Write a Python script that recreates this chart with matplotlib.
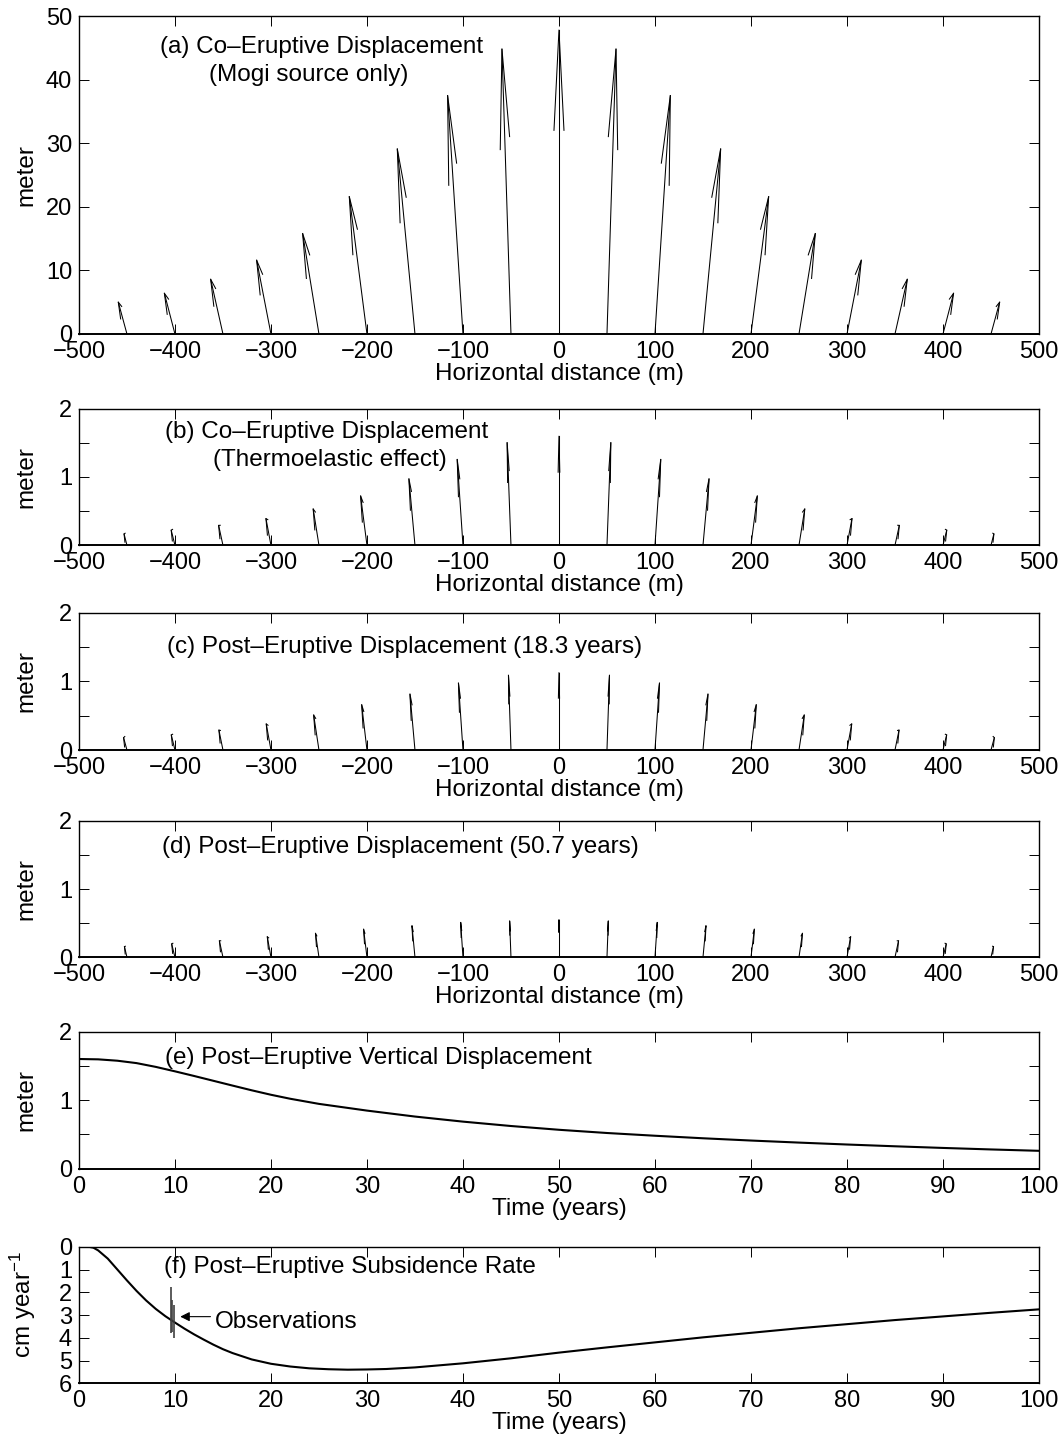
import numpy as np
import matplotlib
matplotlib.use('Agg')
import matplotlib.pyplot as plt

plt.rcParams['font.family'] = ['Liberation Sans', 'DejaVu Sans']
plt.rcParams['mathtext.fontset'] = 'custom'
plt.rcParams['mathtext.rm'] = 'Liberation Sans'
plt.rcParams['mathtext.it'] = 'Liberation Sans:italic'

# station positions (m)
stations = [-450, -400, -350, -300, -250, -200, -150, -100, -50, 0,
            50, 100, 150, 200, 250, 300, 350, 400, 450]

# (a) co-eruptive, Mogi only: horizontal / vertical arrow components
east_a = [-9.0, -11.0, -12.8, -14.9, -17.0, -18.4, -18.4, -16.0, -9.4, 0.0,
          9.4, 16.0, 18.4, 18.4, 17.0, 14.9, 12.8, 11.0, 9.0]
up_a = [5.0, 6.4, 8.6, 11.6, 15.8, 21.6, 29.1, 37.5, 44.8, 47.8,
        44.8, 37.5, 29.1, 21.6, 15.8, 11.6, 8.6, 6.4, 5.0]

# (b) co-eruptive, thermoelastic
east_b = [-3.0, -3.9, -4.5, -5.2, -6.0, -6.6, -6.3, -6.0, -4.0, 0.0,
          4.0, 6.0, 6.3, 6.6, 6.0, 5.2, 4.5, 3.9, 3.0]
up_b = [0.165, 0.22, 0.29, 0.39, 0.53, 0.72, 0.97, 1.255, 1.50, 1.595,
        1.50, 1.255, 0.97, 0.72, 0.53, 0.39, 0.29, 0.22, 0.165]

# (c) post-eruptive, 18.3 years
east_c = [-3.5, -3.8, -4.2, -4.9, -5.5, -5.5, -5.2, -4.7, -2.6, 0.0,
          2.6, 4.7, 5.2, 5.5, 5.5, 4.9, 4.2, 3.8, 3.5]
up_c = [0.18, 0.22, 0.29, 0.38, 0.51, 0.66, 0.815, 0.976, 1.09, 1.13,
        1.09, 0.976, 0.815, 0.66, 0.51, 0.38, 0.29, 0.22, 0.18]

# (d) post-eruptive, 50.7 years
east_d = [-2.6, -3.4, -3.7, -3.8, -3.6, -3.5, -3.1, -2.4, -1.4, 0.0,
          1.4, 2.4, 3.1, 3.5, 3.6, 3.8, 3.7, 3.4, 2.6]
up_d = [0.156, 0.195, 0.24, 0.30, 0.35, 0.41, 0.46, 0.51, 0.53, 0.55,
        0.53, 0.51, 0.46, 0.41, 0.35, 0.30, 0.24, 0.195, 0.156]

# (e) vertical displacement vs time
t_e = [0, 2, 4, 6, 8, 10, 12, 14, 16, 18, 20, 22, 25, 30, 35, 40, 45, 50,
       55, 60, 65, 70, 75, 80, 85, 90, 95, 100]
disp_e = [1.60, 1.595, 1.575, 1.54, 1.485, 1.42, 1.352, 1.282, 1.212,
          1.143, 1.078, 1.02, 0.945, 0.847, 0.76, 0.686, 0.622, 0.567,
          0.52, 0.48, 0.443, 0.41, 0.38, 0.352, 0.326, 0.302, 0.28, 0.26]

# (f) subsidence rate vs time (cm/yr)
t_f = [0, 1, 1.5, 2, 3, 4, 5, 6, 7, 8, 9, 10, 11, 12, 13, 14, 15, 16, 18,
       20, 22, 24, 26, 28, 30, 32, 35, 40, 45, 50, 55, 60, 65, 70, 75, 80,
       85, 90, 95, 100]
rate_f = [0, 0, 0.04, 0.16, 0.52, 1.0, 1.48, 1.94, 2.36, 2.73, 3.05, 3.33,
          3.6, 3.85, 4.08, 4.3, 4.5, 4.67, 4.95, 5.14, 5.26, 5.34, 5.38, 5.4,
          5.39, 5.37, 5.3, 5.12, 4.9, 4.65, 4.42, 4.2, 3.98, 3.78, 3.58,
          3.4, 3.22, 3.06, 2.9, 2.75]

# observations
obs_t = [9.55, 9.72, 9.9]
obs_lo = [1.76, 2.35, 2.56]
obs_hi = [3.8, 3.73, 4.02]

FS = 17.5
TFS = 17

fig = plt.figure(figsize=(10.64, 14.44), dpi=100)
L, W = 0.0742, 0.9023
boxes = [(0.7687, 0.2202), (0.6224, 0.0947), (0.4806, 0.0949),
         (0.3371, 0.0944), (0.1907, 0.0949), (0.0420, 0.0946)]
axs = [fig.add_axes([L, b, W, h]) for b, h in boxes]


def style(ax):
    ax.tick_params(direction='in', top=True, right=True, length=6.9,
                   width=0.7, labelsize=TFS, pad=5)
    for s in ax.spines.values():
        s.set_linewidth(1.0)
    ax.spines['bottom'].set_linewidth(1.4)
    ax.yaxis.set_label_coords(-0.043, 0.5)


def arrows(ax, x, u, v, k):
    # matlab-style open arrowheads
    a, b = 0.33, 0.33
    for xi, ui, vi in zip(x, u, v):
        vs = vi * k
        tx, ty = xi + ui, vi
        lx = tx - a * (ui + b * vs)
        ly = (vs - a * (vs - b * ui)) / k
        rx = tx - a * (ui - b * vs)
        ry = (vs - a * (vs + b * ui)) / k
        ax.plot([xi, tx], [0, ty], color='k', lw=0.75)
        ax.plot([lx, tx, rx], [ly, ty, ry], color='k', lw=0.75)


panels = [(east_a, up_a, 1.0), (east_b, up_b, 5.0),
          (east_c, up_c, 5.0), (east_d, up_d, 5.0)]
for i, (u, v, k) in enumerate(panels):
    ax = axs[i]
    arrows(ax, stations, u, v, k)
    ax.set_xlim(-500, 500)
    ax.set_xticks(range(-500, 501, 100))
    if i == 0:
        ax.set_ylim(0, 50)
        ax.set_yticks([0, 10, 20, 30, 40, 50])
    else:
        ax.set_ylim(0, 2)
        ax.set_yticks([0, 0.5, 1, 1.5, 2])
        ax.set_yticklabels(['0', '', '1', '', '2'])
    ax.set_xlabel('Horizontal distance (m)', fontsize=FS, labelpad=0)
    ax.set_ylabel('meter', fontsize=FS)
    style(ax)

axs[0].text(-416, 45.2, '(a) Co\u2013Eruptive Displacement', fontsize=FS, va='center')
axs[0].text(-365, 40.7, '(Mogi source only)', fontsize=FS, va='center')
axs[1].text(-410.6, 1.66, '(b) Co\u2013Eruptive Displacement', fontsize=FS, va='center')
axs[1].text(-360, 1.245, '(Thermoelastic effect)', fontsize=FS, va='center')
axs[2].text(-408, 1.51, '(c) Post\u2013Eruptive Displacement (18.3 years)', fontsize=FS, va='center')
axs[3].text(-413, 1.61, '(d) Post\u2013Eruptive Displacement (50.7 years)', fontsize=FS, va='center')

# (e)
ax = axs[4]
ax.plot(t_e, disp_e, color='k', lw=1.5)
ax.set_xlim(0, 100)
ax.set_ylim(0, 2)
ax.set_xticks(range(0, 101, 10))
ax.set_yticks([0, 0.5, 1, 1.5, 2])
ax.set_yticklabels(['0', '', '1', '', '2'])
ax.set_xlabel('Time (years)', fontsize=FS, labelpad=0)
ax.set_ylabel('meter', fontsize=FS)
ax.text(9.0, 1.62, '(e) Post\u2013Eruptive Vertical Displacement', fontsize=FS, va='center')
style(ax)

# (f)
ax = axs[5]
ax.plot(t_f, rate_f, color='k', lw=1.5)
ax.vlines(obs_t, obs_lo, obs_hi, color='0.25', lw=1.2)
ax.annotate('', xy=(10.55, 3.07), xytext=(13.7, 3.07),
            arrowprops=dict(arrowstyle='-|>', color='k', lw=0.8,
                            mutation_scale=14, shrinkA=0, shrinkB=0))
ax.text(14.2, 3.29, 'Observations', fontsize=FS, va='center')
ax.set_xlim(0, 100)
ax.set_ylim(6, 0)
ax.set_xticks(range(0, 101, 10))
ax.set_yticks(range(0, 7))
ax.set_xlabel('Time (years)', fontsize=FS, labelpad=0)
ax.set_ylabel('cm year$^{-1}$', fontsize=FS)
ax.text(8.9, 0.9, '(f) Post\u2013Eruptive Subsidence Rate', fontsize=FS, va='center')
style(ax)
ax.yaxis.set_label_coords(-0.043, 0.58)

fig.savefig('out.png', dpi=100)
